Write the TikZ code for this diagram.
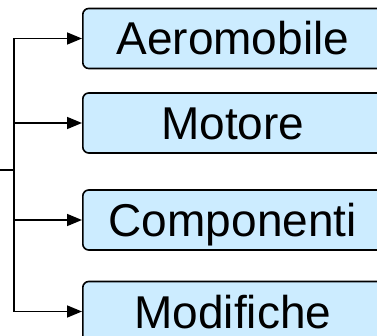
\documentclass[tikz,border=0pt]{standalone}
\usepackage{fontspec}
\setmainfont{Liberation Sans}
\usetikzlibrary{arrows.meta}
\definecolor{boxfill}{RGB}{204,236,255}
\begin{document}
\begin{tikzpicture}[x=1pt,y=-1pt,
  item/.style={draw=black, line width=1.6pt, fill=boxfill, rounded corners=6pt,
    minimum width=300pt, minimum height=60pt, anchor=west, inner sep=0pt,
    font=\fontsize{46}{46}\selectfont, text height=33pt, text depth=0pt},
  link/.style={line width=1.6pt, -{Triangle[length=15pt,width=12pt]}},
  wire/.style={line width=1.6pt}]
\useasboundingbox (0,0) rectangle (377,336);
\clip (0,0) rectangle (377,336);

% target boxes
\node[item] (aero) at (82,38.5)  {Aeromobile};
\node[item] (moto) at (82,123)   {Motore};
\node[item] (comp) at (82,220)   {Componenti};
\node[item] (modi) at (82,311.5) {Modifiche};

% distribution spine
\coordinate (spinetop) at (14,38.5);
\coordinate (spinebot) at (14,311.5);
\coordinate (feed)     at (0,170);
\coordinate (join)     at (14,170);
\draw[wire] (spinetop) -- (spinebot);
\draw[wire] (feed) -- (join);

% branches
\foreach \n in {aero,moto,comp,modi}
  \draw[link] (\n.west -| spinetop) -- (\n.west);
\end{tikzpicture}
\end{document}
